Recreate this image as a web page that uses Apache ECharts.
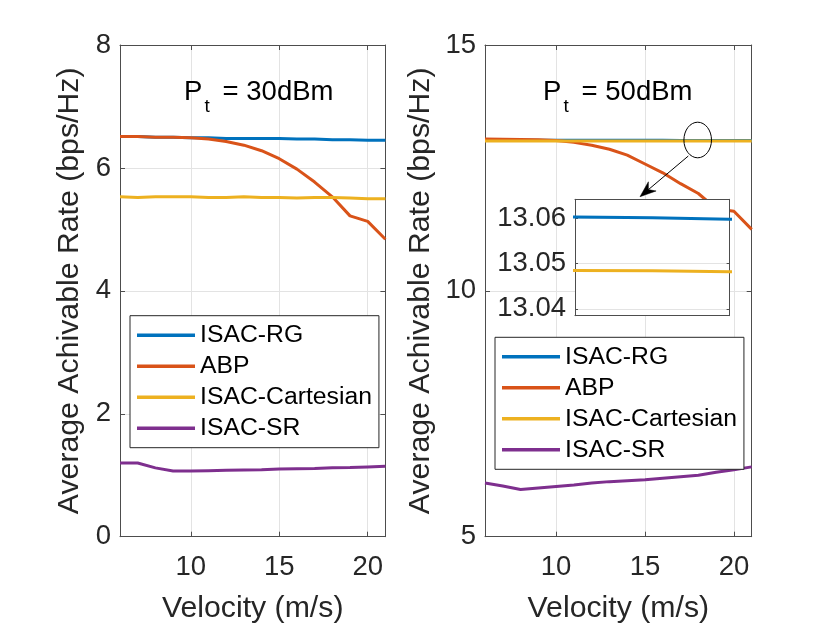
<!DOCTYPE html>
<html><head><meta charset="utf-8">
<script src="https://cdn.jsdelivr.net/npm/echarts@6/dist/echarts.min.js"></script>
<style>html,body{margin:0;padding:0;background:#fff}#c{width:830px;height:623px}</style>
</head><body><div id="c"></div>
<script>
// ---------------- data ----------------
const velocity = [6,7,8,9,10,11,12,13,14,15,16,17,18,19,20,21];
const xTicks = [10,15,20];
const insetTicks = [13.04,13.05,13.06];
const seriesNames = ['ISAC-RG','ABP','ISAC-Cartesian','ISAC-SR'];
// Pt = 30 dBm
const rg30   = [6.51,6.51,6.50,6.50,6.49,6.49,6.48,6.48,6.48,6.48,6.47,6.47,6.46,6.46,6.45,6.45];
const abp30  = [6.51,6.51,6.50,6.50,6.49,6.47,6.43,6.37,6.28,6.15,5.98,5.77,5.53,5.22,5.13,4.84];
const cart30 = [5.53,5.52,5.53,5.53,5.53,5.52,5.52,5.53,5.52,5.52,5.51,5.52,5.52,5.51,5.50,5.50];
const sr30   = [1.20,1.20,1.12,1.07,1.07,1.075,1.08,1.085,1.09,1.10,1.105,1.11,1.12,1.125,1.135,1.145];
// Pt = 50 dBm
const rg50   = [13.0612,13.0611,13.0610,13.0610,13.0609,13.0608,13.0607,13.0606,13.0605,13.0604,13.0604,13.0603,13.0601,13.0598,13.0597,13.0596];
const abp50  = [13.09,13.085,13.08,13.075,13.06,13.02,12.96,12.88,12.76,12.58,12.40,12.18,11.98,11.67,11.62,11.25];
const cart50 = [13.0492,13.0491,13.0490,13.0490,13.0489,13.0488,13.0488,13.0487,13.0487,13.0486,13.0486,13.0485,13.0484,13.0482,13.0481,13.0480];
const sr50   = [6.09,6.03,5.96,5.99,6.02,6.05,6.09,6.12,6.14,6.16,6.19,6.22,6.25,6.31,6.36,6.42];

// ---------------- style ----------------
const FONT = "'Liberation Sans', Arial, Helvetica, sans-serif";
const TXT = '#262626';
const AX = '#4d4d4d';
const GRIDC = '#e3e3e3';
const COLORS = ['#0072BD','#D95319','#EDB120','#7E2F8E'];
const pairs = arr => arr.map((v,i) => [velocity[i], v]);

function xAx(grid, pos, opts) {
  const isBottom = pos === 'bottom';
  return Object.assign({
    type:'value', gridIndex:grid, position:pos, min:6, max:21,
    axisLine:{show:true, onZero:false, lineStyle:{color:AX, width:1}},
    axisTick:{show:true, inside:true, length:5, customValues:xTicks, lineStyle:{color:AX}},
    axisLabel:{show:isBottom, customValues:xTicks, fontSize:27.5, color:TXT, fontFamily:FONT, margin:17},
    splitLine:{show:isBottom, lineStyle:{color:GRIDC, width:1}},
    name: isBottom ? 'Velocity (m/s)' : '',
    nameLocation:'middle', nameGap:57, nameMoveOverlap:false,
    nameTextStyle:{fontSize:30.25, color:TXT, fontFamily:FONT}
  }, opts||{});
}
function yAx(grid, pos, min, max, interval, gap) {
  const isLeft = pos === 'left';
  return {
    type:'value', gridIndex:grid, position:pos, min:min, max:max, interval:interval,
    axisLine:{show:true, onZero:false, lineStyle:{color:AX, width:1}},
    axisTick:{show:true, inside:true, length:5, lineStyle:{color:AX}},
    axisLabel:{show:isLeft, fontSize:27.5, color:TXT, fontFamily:FONT, margin:9},
    splitLine:{show:isLeft, lineStyle:{color:GRIDC, width:1}},
    name: isLeft ? 'Average Achivable Rate (bps/Hz)' : '',
    nameLocation:'middle', nameGap:gap, nameRotate:90, nameMoveOverlap:false,
    nameTextStyle:{fontSize:30.25, color:TXT, fontFamily:FONT}
  };
}
function insetY(pos) {
  const isLeft = pos === 'left';
  return {
    type:'value', gridIndex:2, position:pos, min:13.0385, max:13.0642, z:4,
    axisLine:{show:true, onZero:false, lineStyle:{color:AX, width:1}},
    axisTick:{show:true, inside:true, length:3, customValues:insetTicks, lineStyle:{color:AX}},
    axisLabel:{show:isLeft, customValues:insetTicks, fontSize:27.5, color:TXT, fontFamily:FONT, margin:9,
      formatter: v => v.toFixed(2)},
    splitLine:{show:isLeft, lineStyle:{color:GRIDC, width:1}}
  };
}
function insetX(pos) {
  return {
    type:'value', gridIndex:2, position:pos, min:17, max:19, z:4,
    axisLine:{show:true, onZero:false, lineStyle:{color:AX, width:1}},
    axisTick:{show:false}, axisLabel:{show:false}, splitLine:{show:false}
  };
}
function line(name, data, color, xi, yi, z) {
  return {
    type:'line', name:name, data:pairs(data), xAxisIndex:xi, yAxisIndex:yi,
    showSymbol:false, symbol:'none', z:z||2, clip:true, animation:false,
    lineStyle:{color:color, width:3}, itemStyle:{color:color}, emphasis:{disabled:true}
  };
}
function legend(left, top) {
  return {
    data:seriesNames, orient:'vertical', left:left, top:top,
    padding:[4.5,7,4.5,7], itemGap:1, itemWidth:58, itemHeight:3.5, icon:'rect',
    textStyle:{fontSize:24.75, color:'#000', fontFamily:FONT, lineHeight:30},
    backgroundColor:'#fff', borderColor:'#262626', borderWidth:1, borderRadius:0,
    selectedMode:false
  };
}

// annotation geometry (pixels)
function subText(x0, label) {
  return [
    {type:'text', x:x0, y:92, z:100, style:{text:'P', fontSize:27.5, fontFamily:FONT, fill:'#000', align:'left', verticalAlign:'middle'}},
    {type:'text', x:x0+20.5, y:107, z:100, style:{text:'t', fontSize:19, fontFamily:FONT, fill:'#000', align:'left', verticalAlign:'middle'}},
    {type:'text', x:x0+38.6, y:92, z:100, style:{text:'= ' + label, fontSize:27.5, fontFamily:FONT, fill:'#000', align:'left', verticalAlign:'middle'}}
  ];
}
const arrS = [688.3,156], arrT = [640,196.7];
const dx = arrS[0]-arrT[0], dy = arrS[1]-arrT[1], L = Math.hypot(dx,dy);
const ux = dx/L, uy = dy/L, px = -uy, py = ux;
const hl = 16, hw = 6, nb = 11;
const head = [
  arrT,
  [arrT[0]+ux*hl+px*hw, arrT[1]+uy*hl+py*hw],
  [arrT[0]+ux*nb, arrT[1]+uy*nb],
  [arrT[0]+ux*hl-px*hw, arrT[1]+uy*hl-py*hw]
];

const chart = echarts.init(document.getElementById('c'), null, {renderer:'canvas'});
chart.setOption({
  animation:false,
  backgroundColor:'#fff',
  textStyle:{fontFamily:FONT},
  grid:[
    {left:120, top:45, width:265.4, height:491.7, outerBoundsMode:'none', containLabel:false},
    {left:485, top:45, width:266.7, height:491.7, outerBoundsMode:'none', containLabel:false},
    {left:575, top:199.3, width:154.6, height:116.4, outerBoundsMode:'none', containLabel:false,
     show:true, backgroundColor:'#fff', borderWidth:0, z:3}
  ],
  xAxis:[ xAx(0,'bottom'), xAx(0,'top'), xAx(1,'bottom'), xAx(1,'top'), insetX('bottom'), insetX('top') ],
  yAxis:[ yAx(0,'left',0,8,2,35), yAx(0,'right',0,8,2,35), yAx(1,'left',5,15,5,49), yAx(1,'right',5,15,5,49), insetY('left'), insetY('right') ],
  legend:[ legend(130,315.7), legend(495,337.3) ],
  series:[
    line('ISAC-RG', rg30, COLORS[0], 0, 0),
    line('ABP', abp30, COLORS[1], 0, 0),
    line('ISAC-Cartesian', cart30, COLORS[2], 0, 0),
    line('ISAC-SR', sr30, COLORS[3], 0, 0),
    line('ISAC-RG', rg50, COLORS[0], 2, 2),
    line('ABP', abp50, COLORS[1], 2, 2),
    line('ISAC-Cartesian', cart50, COLORS[2], 2, 2),
    line('ISAC-SR', sr50, COLORS[3], 2, 2),
    line('ISAC-RG', rg50, COLORS[0], 4, 4, 5),
    line('ISAC-Cartesian', cart50, COLORS[2], 4, 4, 5)
  ],
  graphic:[
    ...subText(184, '30dBm'),
    ...subText(543, '50dBm'),
    {type:'ellipse', z:100, shape:{cx:697.7, cy:140, rx:13.8, ry:17.8}, style:{fill:'none', stroke:'#000', lineWidth:1}},
    {type:'line', z:100, shape:{x1:arrS[0], y1:arrS[1], x2:head[2][0], y2:head[2][1]}, style:{stroke:'#000', lineWidth:1}},
    {type:'polygon', z:100, shape:{points:head}, style:{fill:'#000', stroke:'#000', lineWidth:0.5}}
  ]
});
</script>
</body></html>
